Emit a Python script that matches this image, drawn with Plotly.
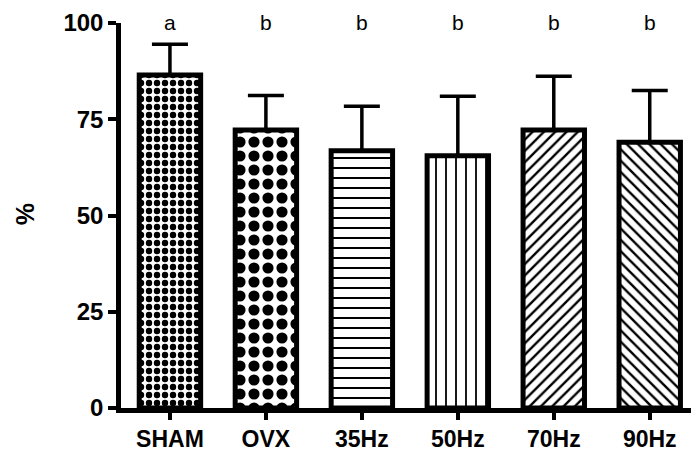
import plotly.graph_objects as go

categories = ["SHAM", "OVX", "35Hz", "50Hz", "70Hz", "90Hz"]
means = [86.5, 72.2, 66.8, 65.5, 72.2, 69.0]
sems = [8.0, 9.0, 11.6, 15.5, 14.0, 13.5]
letters = ["a", "b", "b", "b", "b", "b"]

shapes = [".", ".", "-", "|", "/", "\\"]
sizes = [8, 14, 10, 10, 8, 8]
solid = [0.5, 0.5, 0.2, 0.18, 0.3, 0.3]

FONT = "Liberation Sans, Arial, sans-serif"

fig = go.Figure()
fig.add_trace(go.Bar(
    x=categories, y=means, width=0.64,
    marker=dict(color="white", line=dict(color="black", width=5),
                pattern=dict(shape=shapes, size=sizes, solidity=solid,
                             fgcolor="black", bgcolor="white", fillmode="replace")),
    error_y=dict(type="data", array=sems, arrayminus=[0]*6, symmetric=False,
                 color="black", thickness=3.5, width=18),
    cliponaxis=False,
))

for c, l in zip(categories, letters):
    fig.add_annotation(x=c, y=1.002, text=l, showarrow=False, yref="paper", xref="x",
                       font=dict(size=21, color="black", family=FONT),
                       xanchor="center", yanchor="middle")

fig.add_annotation(x=-0.168, y=0.504, xref="paper", yref="paper", text="%",
                   showarrow=False, textangle=-90, xanchor="center", yanchor="middle",
                   font=dict(size=25, color="black", family=FONT, weight="bold"))

fig.update_layout(
    width=691, height=450, margin=dict(l=121, r=0, t=23, b=42),
    plot_bgcolor="white", paper_bgcolor="white", showlegend=False,
    font=dict(family=FONT, color="black"),
)
fig.update_xaxes(range=[-0.51, 5.43], showline=True, linecolor="black", linewidth=4.5,
                 ticks="outside", ticklen=7, tickwidth=3.5, tickcolor="black",
                 tickfont=dict(size=23, family=FONT, color="black", weight="bold"),
                 showgrid=False, zeroline=False, automargin=False)
fig.update_yaxes(range=[0, 100], tickvals=[0, 25, 50, 75, 100], showline=True, linecolor="black",
                 linewidth=4.5, ticks="outside", ticklen=8, tickwidth=3.5, tickcolor="black",
                 tickfont=dict(size=24, family=FONT, color="black", weight="bold"),
                 showgrid=False, zeroline=False, automargin=False)

fig.write_html("out.html", config={"displayModeBar": False},
               post_script="document.body.style.margin='0';document.body.style.overflow='hidden';")
